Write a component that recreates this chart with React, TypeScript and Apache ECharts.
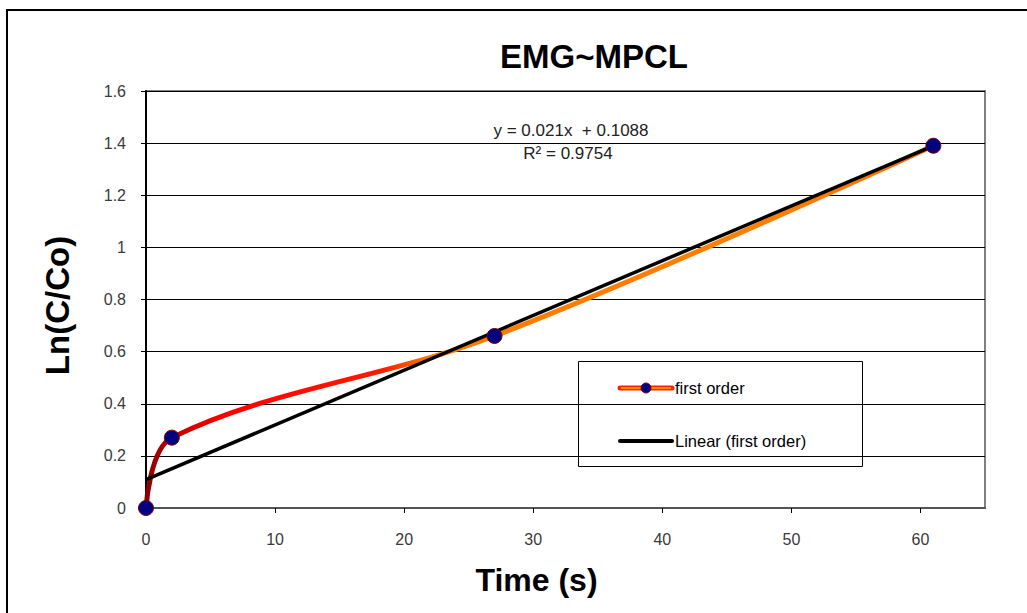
import React, { useEffect, useRef } from "react";
import * as echarts from "echarts";

const timeValues = [0, 2, 27, 61];
const lnValues = [0, 0.27, 0.66, 1.39];
const trendTime = [0, 61];
const trendValues = [0.1088, 1.3898];
const xTickValues = [0, 10, 20, 30, 40, 50, 60];
const titleText = "EMG~MPCL";
const equationText = "y = 0.021x  + 0.1088";
const r2Text = "R² = 0.9754";
const seriesName = "first order";
const trendName = "Linear (first order)";

const FONT = 'Arial, "Liberation Sans", sans-serif';

export default function App() {
  const ref = useRef<HTMLDivElement>(null);
  useEffect(() => {
    if (!ref.current) return;
    const chart = echarts.init(ref.current, null, { renderer: "svg" });
    const pts = timeValues.map((t, i) => [t, lnValues[i]]);
    const trend = trendTime.map((t, i) => [t, trendValues[i]]);
    chart.setOption({
      animation: false,
      backgroundColor: "#fff",
      textStyle: { fontFamily: FONT },
      grid: {
        left: 146,
        top: 91,
        right: 42,
        bottom: 105,
        show: true,
        borderColor: "#808080",
        borderWidth: 2,
        backgroundColor: "#fff",
      },
      xAxis: {
        type: "value",
        min: 0,
        max: 65,
        interval: 10,
        name: "Time (s)",
        nameLocation: "middle",
        nameGap: 56,
        nameTextStyle: {
          fontSize: 32,
          fontWeight: "bold",
          color: "#000",
          fontFamily: FONT,
          padding: [0, 58, 0, 0],
        },
        axisLine: { show: true, onZero: false, lineStyle: { color: "#555", width: 2 } },
        axisTick: { show: true, length: 5, lineStyle: { color: "#000" }, customValues: xTickValues },
        axisLabel: { fontSize: 16, color: "#3a3a3a", margin: 23, customValues: xTickValues, fontFamily: FONT },
        splitLine: { show: false },
      },
      yAxis: {
        type: "value",
        min: 0,
        max: 1.6,
        interval: 0.2,
        name: "Ln(C/Co)",
        nameLocation: "middle",
        nameGap: 72,
        nameTextStyle: {
          fontSize: 33,
          fontWeight: "bold",
          color: "#000",
          fontFamily: FONT,
          padding: [0, 12, 0, 0],
        },
        axisLine: { show: true, onZero: false, lineStyle: { color: "#000", width: 2 } },
        axisTick: { show: true, length: 5, lineStyle: { color: "#000" } },
        axisLabel: {
          fontSize: 16,
          color: "#3a3a3a",
          margin: 20,
          fontFamily: FONT,
          formatter: (v: number) => String(Math.round(v * 10) / 10),
        },
        splitLine: { show: true, lineStyle: { color: "#000", width: 1 } },
      },
      series: [
        {
          name: seriesName,
          type: "line",
          data: pts,
          smooth: 0.35,
          showSymbol: false,
          symbol: "none",
          lineStyle: {
            width: 5,
            color: {
              type: "linear",
              x: 0,
              y: 0,
              x2: 1,
              y2: 0,
              colorStops: [
                { offset: 0, color: "#8b0000" },
                { offset: 0.03, color: "#bb0000" },
                { offset: 0.1, color: "#ff0000" },
                { offset: 0.3, color: "#ff1a00" },
                { offset: 0.36, color: "#ff7a00" },
                { offset: 0.8, color: "#ff8000" },
                { offset: 1, color: "#ff6a00" },
              ],
            },
          },
          z: 2,
        },
        {
          name: trendName,
          type: "line",
          data: trend,
          showSymbol: false,
          symbol: "none",
          lineStyle: { width: 3.5, color: "#000" },
          z: 3,
        },
        {
          name: seriesName + " points",
          type: "scatter",
          data: pts,
          symbol: "circle",
          symbolSize: 15,
          itemStyle: { color: "#000080", borderColor: "#800000", borderWidth: 1, opacity: 1 },
          z: 4,
        },
      ],
      graphic: [
        {
          type: "rect",
          shape: { x: 7, y: 10, width: 1100, height: 700 },
          style: { fill: "none", stroke: "#000", lineWidth: 2 },
          z: 100,
        },
        {
          type: "text",
          x: 594,
          y: 56,
          style: {
            text: titleText,
            fontSize: 33,
            fontWeight: "bold",
            fontFamily: FONT,
            fill: "#000",
            align: "center",
            verticalAlign: "middle",
          },
        },
        {
          type: "text",
          x: 571,
          y: 130,
          style: {
            text: equationText,
            fontSize: 17,
            fontFamily: FONT,
            fill: "#222",
            align: "center",
            verticalAlign: "middle",
          },
          z: 50,
        },
        {
          type: "text",
          x: 568,
          y: 153,
          style: {
            text: r2Text,
            fontSize: 17,
            fontFamily: FONT,
            fill: "#222",
            align: "center",
            verticalAlign: "middle",
          },
          z: 50,
        },
        {
          type: "group",
          z: 60,
          children: [
            {
              type: "rect",
              shape: { x: 578.5, y: 361.5, width: 284, height: 105 },
              style: { fill: "#fff", stroke: "#000", lineWidth: 1 },
            },
            {
              type: "line",
              shape: { x1: 620, y1: 388, x2: 672, y2: 388 },
              style: { stroke: "#ff2000", lineWidth: 5, lineCap: "round" },
            },
            {
              type: "line",
              shape: { x1: 621, y1: 388, x2: 671, y2: 388 },
              style: { stroke: "#ff8c00", lineWidth: 2 },
            },
            {
              type: "circle",
              shape: { cx: 646, cy: 388, r: 5 },
              style: { fill: "#000080", stroke: "#800000", lineWidth: 1 },
            },
            {
              type: "text",
              x: 675,
              y: 388,
              style: {
                text: seriesName,
                fontSize: 16.5,
                fontFamily: FONT,
                fill: "#000",
                align: "left",
                verticalAlign: "middle",
              },
            },
            {
              type: "line",
              shape: { x1: 620, y1: 441, x2: 672, y2: 441 },
              style: { stroke: "#000", lineWidth: 4, lineCap: "round" },
            },
            {
              type: "text",
              x: 675,
              y: 441,
              style: {
                text: trendName,
                fontSize: 16.5,
                fontFamily: FONT,
                fill: "#000",
                align: "left",
                verticalAlign: "middle",
              },
            },
          ],
        },
      ],
    });
    return () => chart.dispose();
  }, []);
  return (
    <div
      ref={ref}
      style={{ position: "fixed", left: 0, top: 0, width: 1027, height: 613 }}
    />
  );
}
